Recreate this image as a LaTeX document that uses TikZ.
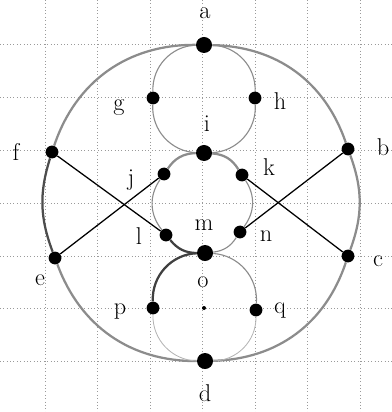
\documentclass[tikz,border=0pt]{standalone}
\usetikzlibrary{positioning}
\definecolor{gpgray}{HTML}{8C8C8C}
\definecolor{gplight}{HTML}{B4B4B4}
\definecolor{gpgrid}{HTML}{9A9A9A}

\begin{document}
\begin{tikzpicture}[x=0.025cm,y=-0.025cm,
  vtx/.style={circle,fill=black,inner sep=0pt,minimum size=0.4cm},
  smallvtx/.style={circle,fill=black,inner sep=0pt,minimum size=0.32cm},
  lbl/.style={font=\LARGE,inner sep=1pt},
  rim/.style={gpgray,line width=1.6pt},
  ring/.style={gpgray,line width=0.8pt},
  thickring/.style={black!75,line width=1.6pt},
  chord/.style={black,line width=0.9pt}]
\useasboundingbox (0,0) rectangle (392,412);
% graph paper
\foreach \x in {45,97.5,150,202.5,255,307.5,360}
  \draw[gpgrid,dotted] (\x,0) -- (\x,412);
\foreach \y in {44,97,150,203,256,308,361}
  \draw[gpgrid,dotted] (0,\y) -- (392,\y);

% vertices
\node[vtx] (a) at (204,45) {};
\node[smallvtx] (b) at (348,149) {};
\node[smallvtx] (c) at (348,256) {};
\node[vtx] (d) at (205,361) {};
\node[smallvtx] (e) at (55,258) {};
\node[smallvtx] (f) at (52,152) {};
\node[smallvtx] (g) at (153,98) {};
\node[smallvtx] (h) at (255,98) {};
\node[vtx] (i) at (204,153) {};
\node[smallvtx] (j) at (164,174) {};
\node[smallvtx] (k) at (242,175) {};
\node[smallvtx] (l) at (166,235) {};
\node[vtx] (m) at (205,253) {};
\node[smallvtx] (n) at (240,232) {};
\node[circle,fill=black,inner sep=0pt,minimum size=0.1cm] (o) at (204,308) {};
\node[smallvtx] (p) at (153,308) {};
\node[smallvtx] (q) at (256,310) {};

% outer circle
\draw[rim] (a) to[bend left=35] (b);
\draw[rim] (b) to[bend left=20] (c);
\draw[rim] (c) to[bend left=35] (d);
\draw[rim] (d) to[bend left=35] (e);
\draw[rim,black!70] (e) to[bend left=19] (f);
\draw[rim] (f) to[bend left=36] (a);

% upper ring
\draw[ring] (a) to[bend left=45] (h);
\draw[ring] (h) to[bend left=45] (i);
\draw[ring] (i) to[bend left=45] (g);
\draw[ring] (g) to[bend left=45] (a);

% middle ring
\draw[rim] (i) to[bend left=27] (k);
\draw[ring] (k) to[bend left=35] (n);
\draw[ring] (n) to[bend left=25] (m);
\draw[thickring] (m) to[bend left=25] (l);
\draw[ring] (l) to[bend left=37] (j);
\draw[rim] (j) to[bend left=27] (i);

% lower ring
\draw[ring] (m) to[bend left=45] (q);
\draw[gplight,line width=0.6pt] (q) to[bend left=45] (d);
\draw[gplight,line width=0.6pt] (d) to[bend left=45] (p);
\draw[thickring] (p) to[bend left=45] (m);

% crossing chords
\draw[chord] (f) -- (l);
\draw[chord] (e) -- (j);
\draw[chord] (b) -- (n);
\draw[chord] (c) -- (k);

% labels
\node[lbl] (la) at (205,13) {a};
\node[lbl] (lb) at (383,147) {b};
\node[lbl] (lc) at (378,261) {c};
\node[lbl] (ld) at (205,393) {d};
\node[lbl] (le) at (40,280) {e};
\node[lbl] (lf) at (16,152) {f};
\node[lbl] (lg) at (119,108) {g};
\node[lbl] (lh) at (280,101) {h};
\node[lbl] (li) at (207,124) {i};
\node[lbl] (lj) at (131,180) {j};
\node[lbl] (lk) at (269,167) {k};
\node[lbl] (ll) at (139,236) {l};
\node[lbl] (lm) at (204,225) {m};
\node[lbl] (ln) at (266,236) {n};
\node[lbl] (lo) at (203,282) {o};
\node[lbl] (lp) at (120,312) {p};
\node[lbl] (lq) at (280,311) {q};
\end{tikzpicture}
\end{document}
